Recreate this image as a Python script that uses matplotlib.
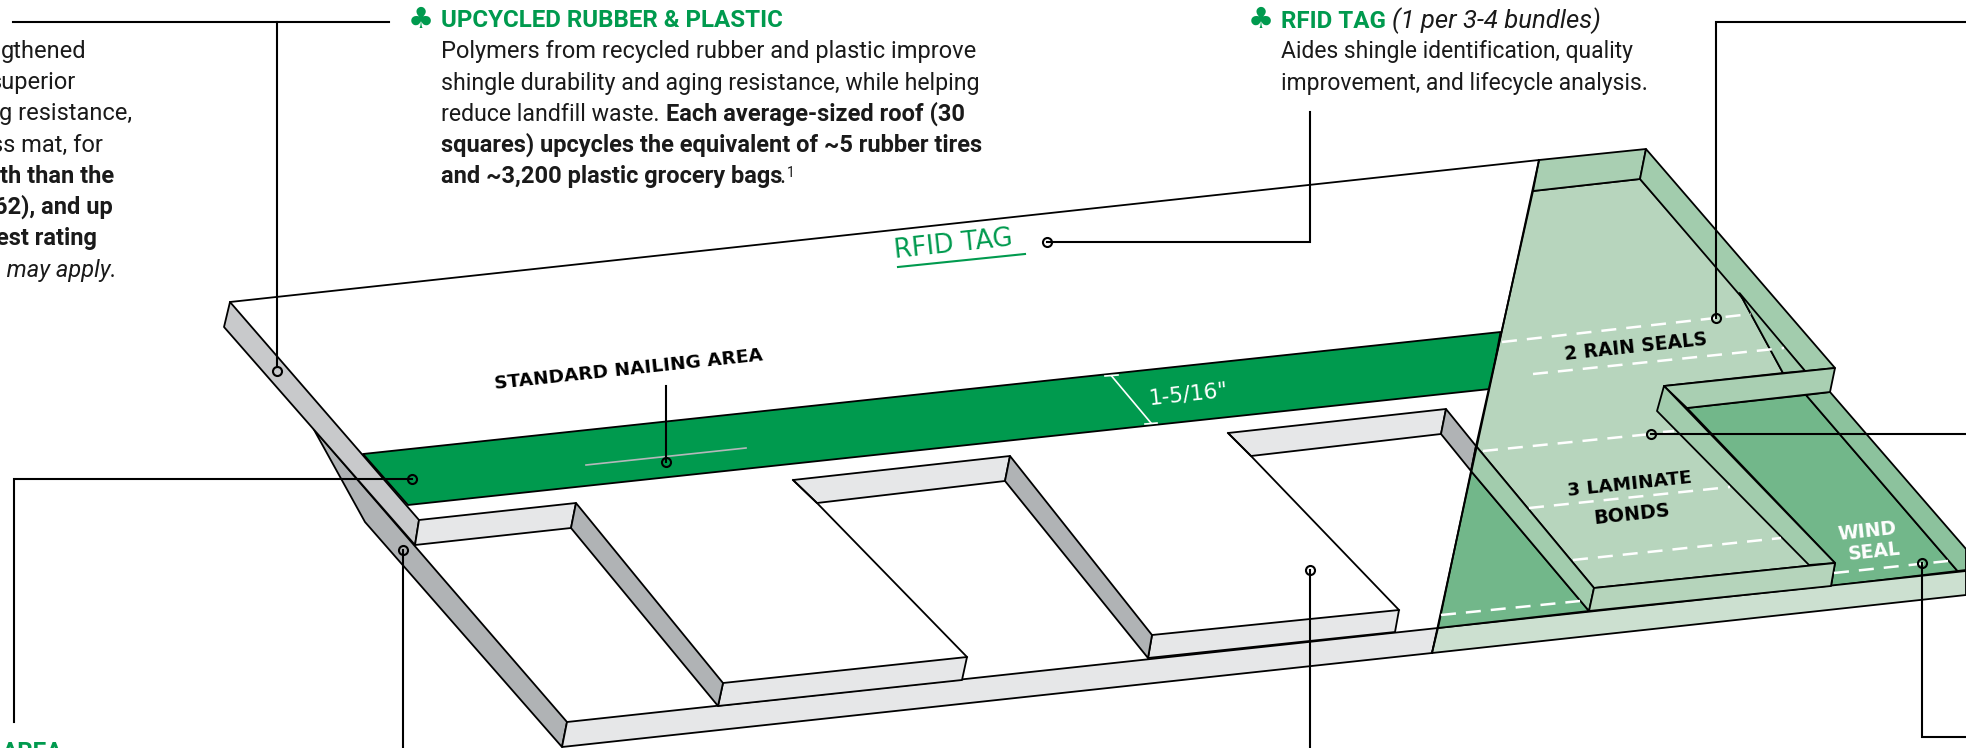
#!/usr/bin/env python
# -*- coding: utf-8 -*-

import matplotlib
matplotlib.use('Agg')
import matplotlib.pyplot as plt

plt.rcParams['font.family'] = ['Roboto', 'DejaVu Sans']

GREEN = '#009a4e'
INK = '#1a1a1a'

# shingle outline, in picture pixels
edge_strip = [(230, 302), (419, 520), (415, 545), (224, 327)]
under_strip = [(313.6, 429), (365, 522), (562, 747), (567, 722)]
base_grey = [(567, 722), (1438, 628), (1432, 653), (562, 747)]
nail_band = [(363, 454), (1500.5, 332), (1490, 389), (408, 505)]

tab1_top = [(419, 520), (576, 503), (571, 528), (415, 545)]
tab1_side = [(576, 503), (723, 683), (718, 706), (571, 528)]
tab1_front = [(723, 683), (967, 657), (962, 680), (718, 706)]
tab2_top = [(793, 480), (1010, 456), (1005, 481), (817, 503)]
tab2_side = [(1010, 456), (1152, 635), (1148, 658), (1005, 481)]
tab2_front = [(1152, 635), (1399, 610), (1395, 632), (1148, 658)]
tab3_top = [(1228, 433), (1446, 409), (1441, 434), (1251, 456)]
tab3_side = [(1446, 409), (1476, 446), (1471, 471), (1441, 434)]

seal_main = [(1533, 191), (1640, 179), (1739.5, 293), (1783, 373), (1664, 386),
             (1835, 563), (1594, 588), (1476, 446)]
seal_top = [(1539, 160), (1646, 149), (1640, 179), (1533, 191)]
seal_right = [(1646, 149), (1835, 368), (1805, 371), (1640, 179)]
seal_sliver = [(1739.5, 293), (1805, 371), (1783, 373)]
flap_top = [(1664, 386), (1835, 368), (1830, 392), (1687, 408)]
flap_side = [(1664, 386), (1835, 563), (1809, 565), (1657, 411)]
flap_dark = [(1687, 408), (1806, 395), (1957.5, 571), (1831, 586), (1835, 563)]
flap_right = [(1806, 395), (1830, 392), (1966, 549), (1966, 570), (1957.5, 571)]
base_green = [(1438, 628), (1966, 571), (1966, 595), (1432, 653)]
tab4_front = [(1594, 588), (1835, 563), (1831, 586), (1589, 611)]
tab4_side = [(1476, 446), (1594, 588), (1589, 611), (1471, 471)]
tab4_dark = [(1471, 471), (1589, 611), (1438, 628)]

top_line = [(230, 302), (1539, 160)]
seal_left_line = [(1539, 160), (1432, 653)]
tab2_left = [(793, 480), (817, 503), (967, 657)]
tab3_left = [(1228, 433), (1251, 456), (1399, 610)]

dashes = [[(1502, 342), (1751, 314)], [(1533, 374), (1784, 348)],
          [(1483, 451), (1651, 434)], [(1529, 508), (1730, 487)],
          [(1573, 560), (1781, 538)], [(1441, 615), (1580, 601)],
          [(1834, 573), (1948, 561)], [(1663, 432), (1674, 431)]]

leaders = [[(13, 22), (389, 22)],
           [(276.5, 22), (276.5, 367)],
           [(1047, 242), (1310, 242), (1310, 112)],
           [(1966, 22), (1715.5, 22), (1715.5, 318)],
           [(1651, 434), (1966, 434)],
           [(1922, 563), (1922, 737), (1966, 737)],
           [(411.6, 479), (14, 479), (14, 722)],
           [(403, 550), (403, 748)],
           [(1309.5, 570), (1309.5, 748)],
           [(666, 386), (666, 462)]]
leader_dots = [(276.5, 371), (1047, 242), (1715.5, 318), (1651, 434),
               (1922, 563), (411.6, 479), (403, 550), (1309.5, 570), (666, 462)]

fig = plt.figure(figsize=(19.66, 7.48), dpi=100)
ax = fig.add_axes([0, 0, 1, 1])
ax.set_xlim(0, 1966)
ax.set_ylim(748, 0)
ax.axis('off')


def shape(points, color, zorder=2):
    xs, ys = zip(*points)
    ax.fill(xs, ys, facecolor=color, edgecolor='black', linewidth=1.3,
            joinstyle='round', zorder=zorder)


def line(points, color='black', lw=1.3, zorder=3, **kw):
    xs, ys = zip(*points)
    ax.plot(xs, ys, color=color, lw=lw, zorder=zorder, **kw)


shape(under_strip, '#b0b3b5')
shape(edge_strip, '#c8c9cb')
shape(nail_band, GREEN)
shape(base_grey, '#e6e7e8')
for tab in [tab1_top, tab1_front, tab2_top, tab2_front, tab3_top]:
    shape(tab, '#e6e7e8')
for tab in [tab1_side, tab2_side, tab3_side]:
    shape(tab, '#b0b3b5')
line(top_line)
line(tab2_left)
line(tab3_left)

shape(seal_main, '#b7d5bd')
shape(seal_top, '#a9cfb2')
shape(seal_right, '#a2ccad')
shape(seal_sliver, '#a2ccad')
shape(flap_dark, '#72b78a')
shape(flap_right, '#8cc29d')
shape(flap_top, '#a9cfb2')
shape(flap_side, '#a2ccad')
shape(base_green, '#cce0d0')
shape(tab4_dark, '#72b78a')
shape(tab4_side, '#a2ccad')
shape(tab4_front, '#b5d4bb')
line(seal_left_line, zorder=4)

for d in dashes:
    line(d, color='white', lw=1.8, linestyle=(0, (6, 4)), zorder=5)

# gauge and nail line on the green band
line([(586, 465), (746, 448)], color='#b5b8ba', lw=1.2, zorder=5)
line([(1111.6, 376), (1151, 423)], color='white', lw=1.2, zorder=5)
line([(1105, 376), (1118, 375)], color='white', lw=1.2, zorder=5)
line([(1145, 424), (1157, 423)], color='white', lw=1.2, zorder=5)
line([(898, 267), (1025, 254)], color=GREEN, lw=1.5, zorder=5)

for lead in leaders:
    line(lead, lw=1.5, zorder=6, solid_joinstyle='miter')
dx, dy = zip(*leader_dots)
ax.plot(dx, dy, 'o', mfc='none', mec='black', mew=1.5, ms=6.5, zorder=7)

BODY = 17


def body(x, y, s, weight='normal', style='normal', color=INK, ha='left', size=BODY):
    ax.text(x, y, s, fontsize=size, fontweight=weight, fontstyle=style, color=color,
            ha=ha, va='baseline', zorder=8)


# clipped column on the left
left_rows = [('gthened', 86, 58, 'normal', 'normal'),
             ('superior', 76, 89, 'normal', 'normal'),
             ('g resistance,', 132, 120, 'normal', 'normal'),
             ('ss mat, for', 103, 152, 'normal', 'normal'),
             ('th than the', 114, 183, 'bold', 'normal'),
             ('62), and up', 113, 214, 'bold', 'normal'),
             ('est rating', 97, 245, 'bold', 'normal'),
             ('s may apply.', 117, 277, 'normal', 'italic')]
for s, x, y, w, st in left_rows:
    body(x, y, s, weight=w, style=st, ha='right')

# upcycled block
for cx, cy in [(421, 28), (1261, 28)]:
    ax.text(cx, cy, '\u2663', family='DejaVu Sans', fontsize=21, color=GREEN,
            ha='center', va='baseline', zorder=8)
body(441, 27, 'UPCYCLED RUBBER & PLASTIC', weight='bold', color=GREEN, size=17.4)
body(441, 58, 'Polymers from recycled rubber and plastic improve')
body(441, 90, 'shingle durability and aging resistance, while helping', size=16.7)
body(441, 121, 'reduce landfill waste.', size=16.7)
body(666, 121, 'Each average-sized roof (30', weight='bold')
body(441, 152, 'squares) upcycles the equivalent of ~5 rubber tires', weight='bold')
body(441, 183, 'and ~3,200 plastic grocery bags', weight='bold')
body(779, 183, '.')
body(787, 177, '1', size=10)

# rfid block
body(1281, 28, 'RFID TAG', weight='bold', color=GREEN, size=17.4)
body(1392, 28, '(1 per 3-4 bundles)', style='italic', size=18.5)
body(1281, 58, 'Aides shingle identification, quality', size=16.5)
body(1281, 90, 'improvement, and lifecycle analysis.', size=16.5)

# bottom edge heading, cut by the frame
body(2, 759, 'AREA', weight='bold', color=GREEN, size=17.4)


def slanted(x, y, s, size, color='black', weight='bold', family='DejaVu Sans', rot=6.1):
    ax.text(x, y, s, fontsize=size, color=color, fontweight=weight, family=family,
            rotation=rot, rotation_mode='anchor', ha='center', va='center', zorder=8)


slanted(629, 370, 'STANDARD NAILING AREA', 13.3)
slanted(953, 245, 'RFID TAG', 18.5, color=GREEN, weight='normal')
slanted(1188, 394, '1-5/16"', 15.5, color='white', weight='normal')
slanted(1636, 347, '2 RAIN SEALS', 13.4)
slanted(1630, 484, '3 LAMINATE', 13.3)
slanted(1632, 514, 'BONDS', 13.8)
slanted(1867, 531, 'WIND', 13.5, color='white')
slanted(1874, 552, 'SEAL', 13.5, color='white')

fig.savefig('out.png', dpi=100)
